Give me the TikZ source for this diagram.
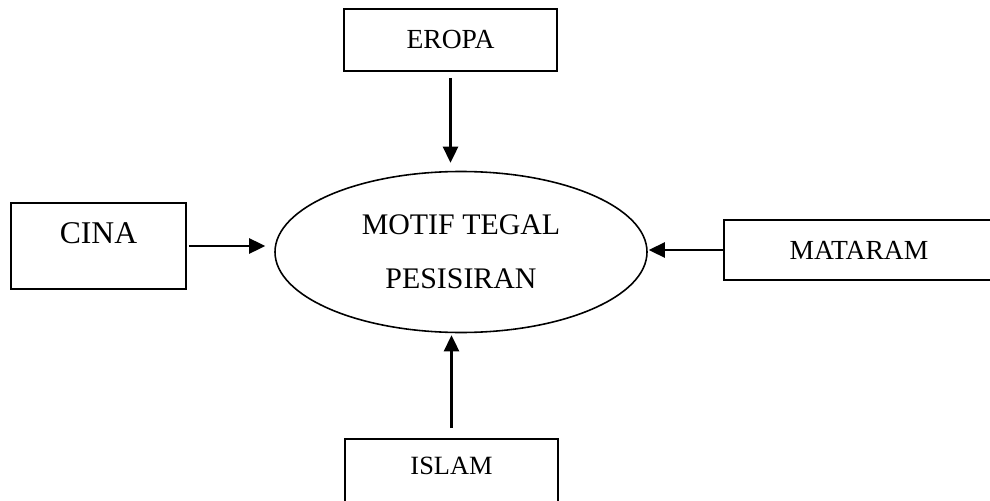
\documentclass[tikz,border=0pt]{standalone}
\usepackage{fontspec}
\setmainfont{Liberation Serif}
\usetikzlibrary{arrows.meta,shapes.geometric}
\tikzset{>={Triangle[length=0.32cm,width=0.30cm]}}
\tikzset{
    box/.style = {draw, line width=1.1pt, rectangle, inner sep=0pt},
    arr/.style = {->, line width=1.5pt},
}

\begin{document}
\begin{tikzpicture}

    \clip (0,0) rectangle (19.8,-10.02);

    % centre
    \node[draw, ellipse, line width=0.9pt, minimum width=7.44cm, minimum height=3.22cm, align=center,
          font=\fontsize{17}{31}\selectfont] (motif) at (9.22,-5.04) {MOTIF TEGAL\\PESISIRAN};

    % influences
    \node[box, minimum width=4.26cm, minimum height=1.24cm, font=\fontsize{15.7}{18}\selectfont] (eropa) at (9.01,-0.80) {EROPA};
    \node[box, minimum width=3.5cm, minimum height=1.72cm, text depth=0.5cm, font=\fontsize{18}{21}\selectfont] (cina) at (1.97,-4.92) {CINA};
    \node[box, minimum width=5.4cm, minimum height=1.2cm, font=\fontsize{15.7}{18}\selectfont] (mataram) at (17.18,-5.0) {MATARAM};
    \node[box, minimum width=4.26cm, minimum height=1.32cm, text depth=0.25cm, font=\fontsize{15}{18}\selectfont] (islam) at (9.03,-9.44) {ISLAM};

    \draw[arr, shorten <=0.12cm, shorten >=0.16cm] (eropa.south) -- (eropa.south |- motif.north);
    \draw[arr, shorten <=0.04cm, shorten >=0.18cm] (cina.east) -- (cina.east -| motif.west);
    \draw[arr, shorten >=0.02cm] (mataram.west) -- (mataram.west -| motif.east);
    \draw[arr, shorten <=0.2cm, shorten >=0.04cm] (islam.north) -- (islam.north |- motif.south);

\end{tikzpicture}
\end{document}
